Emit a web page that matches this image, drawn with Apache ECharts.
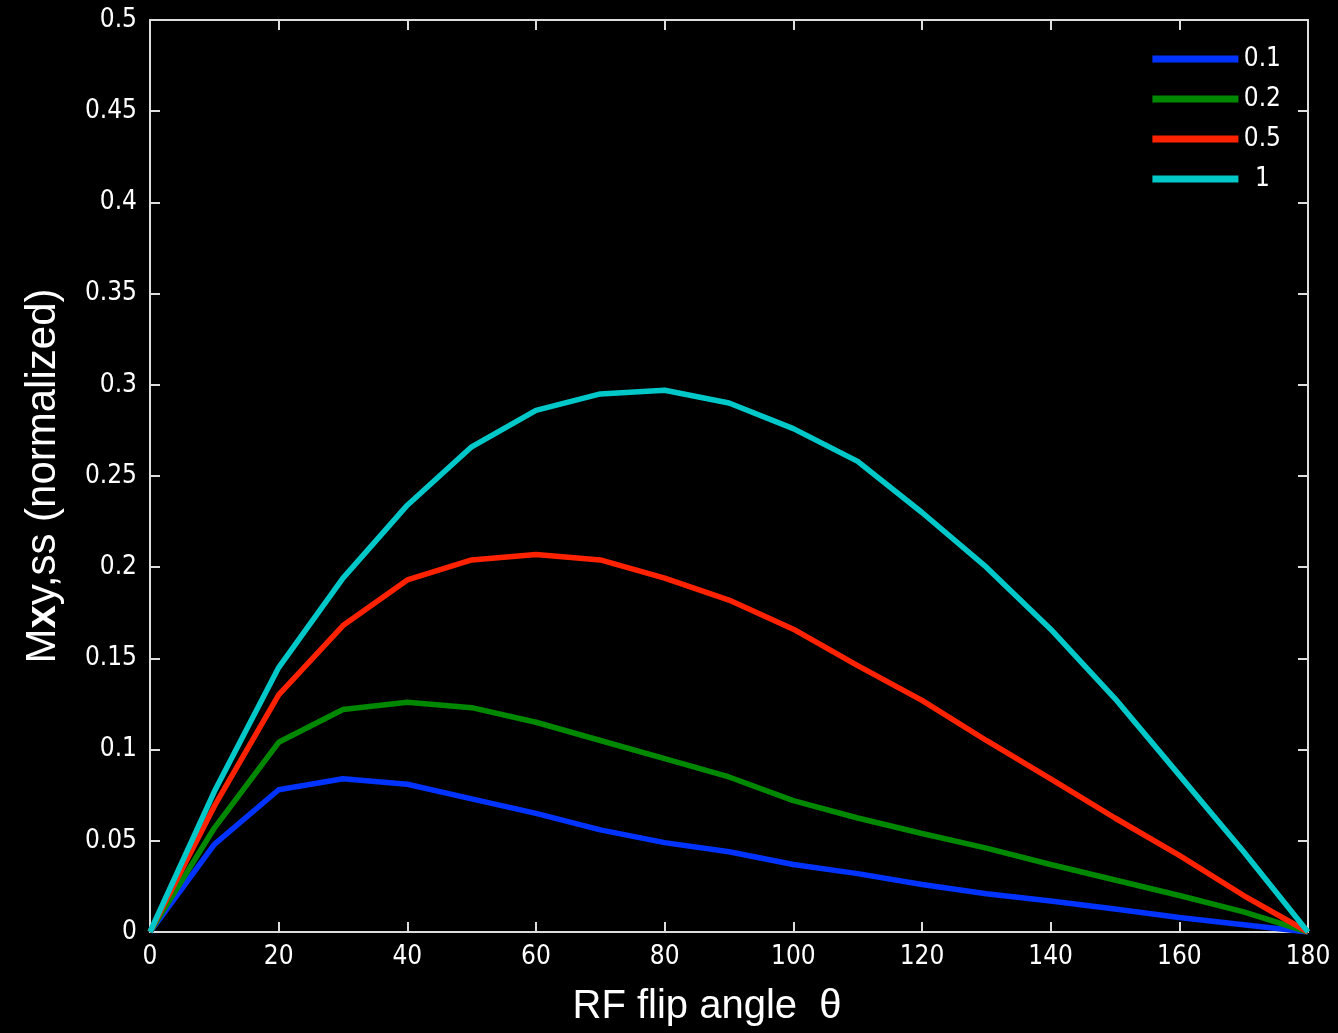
<!DOCTYPE html>
<html>
<head>
<meta charset="utf-8">
<script src="https://cdn.jsdelivr.net/npm/echarts@6/dist/echarts.min.js"></script>
<style>
html,body{margin:0;padding:0;background:#000;}
#c{width:1338px;height:1033px;}
</style>
</head>
<body>
<div id="c"></div>
<script>
const angles = [0,10,20,30,40,50,60,70,80,90,100,110,120,130,140,150,160,170,180];
const seriesNames = ['0.1','0.2','0.5','1'];
const s01 = [0,0.048,0.078,0.084,0.081,0.073,0.065,0.056,0.049,0.044,0.037,0.032,0.026,0.021,0.017,0.0126,0.008,0.004,0];
const s02 = [0,0.057,0.104,0.122,0.126,0.123,0.115,0.105,0.095,0.085,0.072,0.0625,0.054,0.046,0.037,0.0285,0.020,0.011,0];
const s05 = [0,0.069,0.130,0.168,0.193,0.204,0.207,0.204,0.194,0.182,0.166,0.146,0.127,0.105,0.084,0.0625,0.042,0.020,0];
const s1  = [0,0.077,0.145,0.194,0.234,0.266,0.286,0.295,0.297,0.290,0.276,0.258,0.230,0.200,0.166,0.128,0.086,0.044,0];
const colors = ['#0033ff','#008800','#ff2200','#00c8c8'];
const allSeries = [s01,s02,s05,s1];

const chart = echarts.init(document.getElementById('c'));
const tickFont = {color:'#fff', fontFamily:'DejaVu Sans Condensed', fontSize:26};
const lineSt = {color:'#ddd',width:2};
chart.setOption({
  backgroundColor:'#000',
  animation:false,
  grid:{left:150,right:30,top:20,bottom:101},
  legend:{
    right:52, top:41, orient:'vertical', itemGap:14,
    itemWidth:86, itemHeight:7,
    icon:'rect',
    formatter: n => '{c|' + n + '}',
    textStyle:{color:'#fff', fontFamily:'DejaVu Sans Condensed', fontSize:26,
      rich:{c:{width:38, align:'center', color:'#fff', fontFamily:'DejaVu Sans Condensed', fontSize:26}}},
    data: seriesNames
  },
  xAxis:[{
    type:'value', min:0, max:180, interval:20, position:'bottom',
    axisLine:{onZero:false,lineStyle:lineSt},
    axisTick:{inside:true,length:10,lineStyle:lineSt},
    axisLabel:Object.assign({margin:12},tickFont),
    splitLine:{show:false},
    name:'RF flip angle  θ', nameLocation:'middle', nameGap:55,
    nameTextStyle:{color:'#fff', fontFamily:'Liberation Sans', fontSize:40, padding:[0,44,0,0]}
  },{
    type:'value', min:0, max:180, interval:20, position:'top',
    axisLine:{onZero:false,lineStyle:lineSt},
    axisTick:{inside:true,length:10,lineStyle:lineSt},
    axisLabel:{show:false}, splitLine:{show:false}
  }],
  yAxis:[{
    type:'value', min:0, max:0.5, interval:0.05, position:'left',
    axisLine:{show:true,onZero:false,lineStyle:lineSt},
    axisTick:{show:true,inside:true,length:10,lineStyle:lineSt},
    axisLabel:Object.assign({margin:13, formatter:v=>String(+v.toFixed(2))},tickFont),
    splitLine:{show:false},
    name:'M{b|x}y,ss (normalized)', nameLocation:'middle', nameGap:86,
    nameTextStyle:{color:'#fff', fontFamily:'Liberation Sans', fontSize:42,
      rich:{b:{fontFamily:'Liberation Sans', fontWeight:'bold', fontSize:42, color:'#fff'}}}
  },{
    type:'value', min:0, max:0.5, interval:0.05, position:'right',
    axisLine:{show:true,onZero:false,lineStyle:lineSt},
    axisTick:{show:true,inside:true,length:10,lineStyle:lineSt},
    axisLabel:{show:false}, splitLine:{show:false}
  }],
  series: allSeries.map((arr,i)=>({
    name: seriesNames[i], type:'line', xAxisIndex:0, yAxisIndex:0,
    data: angles.map((a,j)=>[a,arr[j]]),
    showSymbol:false, symbol:'none',
    lineStyle:{color:colors[i], width:5.5},
    itemStyle:{color:colors[i]}
  }))
});
</script>
</body>
</html>
